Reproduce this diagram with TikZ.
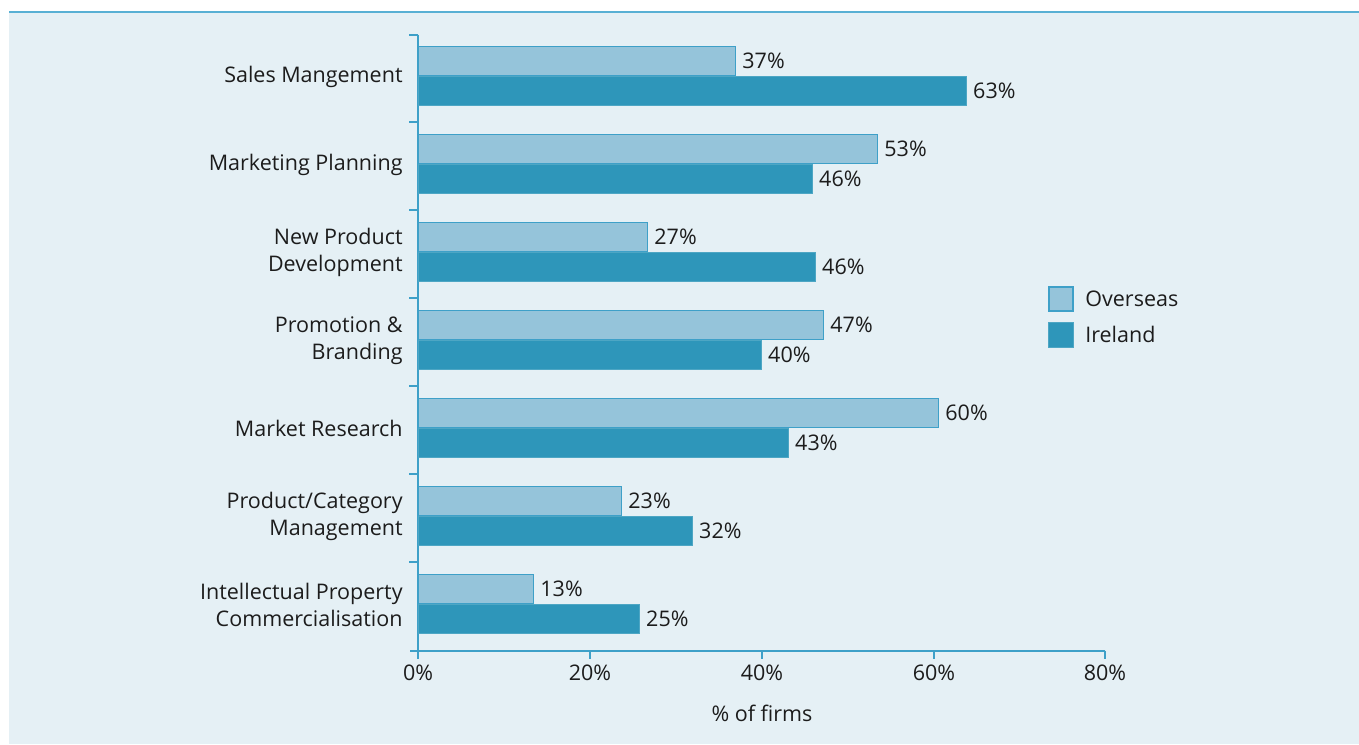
\documentclass[tikz,border=0pt]{standalone}
\usepackage{fontspec}
\setmainfont{Open Sans}
\usetikzlibrary{positioning}

\begin{document}
\begin{tikzpicture}[x=0.5pt, y=-0.5pt, font=\fontsize{10.75}{13.5}\selectfont]

\definecolor{panelbg}{RGB}{229, 240, 245}
\definecolor{ruleblue}{RGB}{88, 176, 212}
\definecolor{axisblue}{RGB}{62, 160, 200}
\definecolor{overseasblue}{RGB}{149, 196, 218}
\definecolor{irelandblue}{RGB}{46, 150, 186}
\definecolor{inkgrey}{RGB}{28, 28, 28}

% Fix the page to the panel
\useasboundingbox (0,0) rectangle (1359,744);
\fill[panelbg] (9,12) rectangle (1359,744);
\draw[ruleblue, line width=1pt] (9,12) -- (1359,12);

\tikzset{
    overseas bar/.style={
        draw=axisblue, line width=0.5pt, fill=overseasblue,
        rectangle, inner sep=0pt, anchor=north west,
        minimum height=14.5pt
    },
    ireland bar/.style={
        draw=irelandblue!85!white, line width=0.4pt, fill=irelandblue,
        rectangle, inner sep=0pt, anchor=north west,
        minimum height=14.5pt
    },
    value label/.style={
        text=inkgrey, inner sep=1.5pt, anchor=west
    },
    category label/.style={
        text=inkgrey, align=right, anchor=east, inner sep=0pt
    },
    axis/.style={
        draw=axisblue, line width=1pt
    }
}

% Axes and ticks
\draw[axis] (418,34.5) -- (418,659);
\draw[axis] (410,650.5) -- (1105,650.5);
\foreach \k in {0,...,6} {
    \draw[axis] (409,34.5+87.9*\k) -- (418,34.5+87.9*\k);
}
\foreach \t/\tx in {0/418, 20/590, 40/762, 60/934, 80/1105} {
    \draw[axis] (\tx,650.5) -- (\tx,659);
    \node[text=inkgrey] (tick\t) at (\tx,673) {\t\%};
}
\node[text=inkgrey] (xtitle) at (762,713) {\% of firms};

% Bars (overseas on top, Ireland below)
\foreach \cat/\ov/\ovx/\ir/\irx [count=\i from 0] in {
    {Sales Mangement}/37/735/63/966,
    {Marketing Planning}/53/877/46/812,
    {New Product\\Development}/27/647/46/815,
    {Promotion \&\\Branding}/47/823/40/761,
    {Market Research}/60/938/43/788,
    {Product/Category\\Management}/23/621/32/692,
    {Intellectual Property\\Commercialisation}/13/533/25/639} {
    \node[overseas bar, minimum width=(\ovx-418)*0.5pt] (ob\i) at (418,46+88*\i) {};
    \node[ireland bar, minimum width=(\irx-418)*0.5pt] (ib\i) at (418,75.5+88*\i) {};
    \node[value label, right=1.5pt of ob\i.east] (ov\i) {\ov\%};
    \node[value label, right=1.5pt of ib\i.east] (iv\i) {\ir\%};
    \node[category label] (cat\i) at (403,76.5+88*\i) {\cat};
}

% Legend
\node[overseas bar, anchor=center, minimum width=12pt, minimum height=12pt, line width=1pt] (keyo) at (1061,298.5) {};
\node[ireland bar, anchor=center, minimum width=12.5pt, minimum height=12.5pt] (keyi) at (1061,334.5) {};
\node[value label, right=4pt of keyo.east] (keyotext) {Overseas};
\node[value label, right=4pt of keyi.east] (keyitext) {Ireland};

\end{tikzpicture}
\end{document}
